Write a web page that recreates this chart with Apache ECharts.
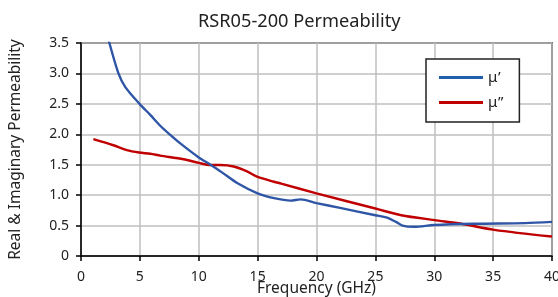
<!DOCTYPE html>
<html>
<head>
<meta charset="utf-8">
<script src="https://cdn.jsdelivr.net/npm/echarts@6/dist/echarts.min.js"></script>
<style>html,body{margin:0;padding:0;background:#fff}#c{width:558px;height:297px}</style>
</head>
<body>
<div id="c"></div>
<script>
var titleText = 'RSR05-200 Permeability';
var xName = 'Frequency (GHz)';
var yName = 'Real & Imaginary Permeability';
var seriesNames = ['\u03bc\u2019', '\u03bc\u201d'];

var freqReal = [2.2, 2.41, 3.18, 3.75, 4.97, 5.88, 6.73, 7.58, 8.43, 10.0, 11.0, 12.0, 13.26, 15.0, 16.4, 17.8, 18.65, 20.0, 22.0, 25.0, 26.0, 26.75, 27.3, 28.3, 30.0, 33.4, 37.7, 40.0];
var muReal =   [3.65, 3.5, 3.0, 2.78, 2.50, 2.32, 2.14, 1.99, 1.85, 1.62, 1.50, 1.37, 1.20, 1.03, 0.95, 0.91, 0.93, 0.87, 0.79, 0.67, 0.63, 0.56, 0.50, 0.48, 0.51, 0.53, 0.54, 0.56];

var freqImag = [1.05, 2.75, 3.89, 4.94, 5.88, 6.73, 8.71, 10.0, 11.0, 11.84, 12.97, 14.1, 15.0, 16.4, 17.0, 20.0, 25.0, 27.2, 30.0, 32.3, 35.1, 40.0];
var muImag =   [1.92, 1.82, 1.74, 1.70, 1.68, 1.65, 1.59, 1.53, 1.495, 1.495, 1.47, 1.39, 1.30, 1.22, 1.19, 1.03, 0.78, 0.67, 0.59, 0.53, 0.43, 0.32];

var colors = ['#2f56a6', '#c00000'];
var legendColors = ['#1f5fae', '#c00000'];

function pairs(xs, ys) { return xs.map(function (x, i) { return [x, ys[i]]; }); }

var FONT = 'Noto Sans';
var TXT = '#222';
var chart = echarts.init(document.getElementById('c'));
chart.setOption({
  animation: false,
  textStyle: { fontFamily: FONT },
  title: {
    text: titleText, left: 193, top: 8,
    textStyle: { fontFamily: FONT, fontSize: 18.2, fontWeight: 'normal', color: TXT }
  },
  grid: { left: 81, right: 6, top: 43, bottom: 41, show: true, borderColor: '#000', borderWidth: 1.5,
    backgroundColor: 'transparent', containLabel: false, outerBoundsMode: 'none' },
  legend: {
    orient: 'vertical', left: 426, top: 59,
    data: seriesNames.map(function (n, i) {
      return { name: n, icon: 'path://M0,0H44V3H0Z', itemStyle: { color: legendColors[i] } };
    }),
    itemWidth: 44, itemHeight: 14, itemGap: 10,
    symbolKeepAspect: true,
    padding: [11, 16, 12, 13],
    borderColor: '#222', borderWidth: 1.5,
    backgroundColor: '#fff',
    textStyle: { fontFamily: FONT, fontSize: 15, color: TXT }
  },
  xAxis: {
    type: 'value', min: 0, max: 40, interval: 5,
    name: xName, nameLocation: 'middle', nameGap: 25, nameMoveOverlap: false,
    nameTextStyle: { fontFamily: FONT, fontSize: 15.5, color: TXT },
    axisLine: { show: true, lineStyle: { color: '#000', width: 1.5 } },
    axisTick: { show: true, length: 5, lineStyle: { color: '#000', width: 1.5 } },
    axisLabel: { fontFamily: FONT, fontSize: 14, color: TXT, margin: 14 },
    splitLine: { show: true, lineStyle: { color: '#bfbfbf', width: 1.5 } }
  },
  yAxis: {
    type: 'value', min: 0, max: 3.5, interval: 0.5,
    name: yName, nameLocation: 'middle', nameGap: 57, nameMoveOverlap: false,
    nameTextStyle: { fontFamily: FONT, fontSize: 15.5, color: TXT },
    axisLine: { show: true, lineStyle: { color: '#000', width: 1.5 } },
    axisTick: { show: true, length: 5, lineStyle: { color: '#000', width: 1.5 } },
    axisLabel: { fontFamily: FONT, fontSize: 14, color: TXT, margin: 12,
      formatter: function (v) { return v === 0 ? '0' : v.toFixed(1); } },
    splitLine: { show: true, lineStyle: { color: '#bfbfbf', width: 1.5 } }
  },
  series: [
    { name: seriesNames[0], type: 'line', data: pairs(freqReal, muReal), symbol: 'none', smooth: 0.3, clip: true,
      lineStyle: { color: colors[0], width: 2.4 }, itemStyle: { color: colors[0] }, z: 3 },
    { name: seriesNames[1], type: 'line', data: pairs(freqImag, muImag), symbol: 'none', smooth: 0.3, clip: true,
      lineStyle: { color: colors[1], width: 2.4 }, itemStyle: { color: colors[1] }, z: 2 }
  ]
});
</script>
</body>
</html>
